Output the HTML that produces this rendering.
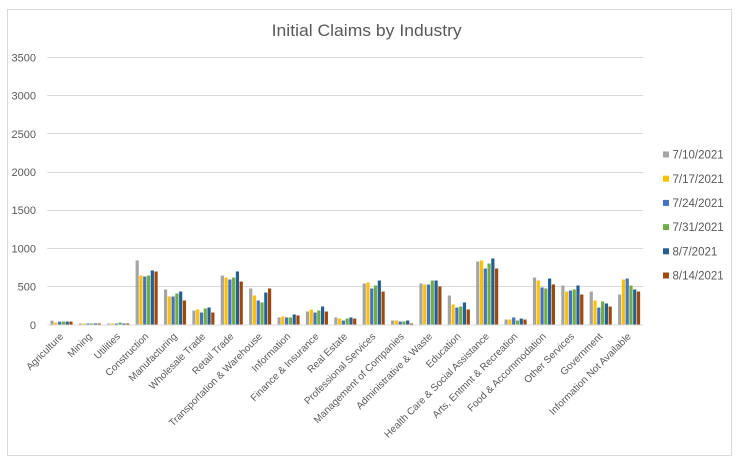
<!DOCTYPE html>
<html><head><meta charset="utf-8"><style>
html,body{margin:0;padding:0;background:#fff;}
svg{display:block;font-family:"Liberation Sans",Arial,sans-serif;}
</style></head><body>
<svg width="741" height="466" viewBox="0 0 741 466" xmlns="http://www.w3.org/2000/svg">
<rect x="0" y="0" width="741" height="466" fill="#fff"/>
<rect x="7.5" y="9.5" width="724" height="446" fill="#fff" stroke="#D9D9D9" stroke-width="1"/>
<text x="366.7" y="36" font-size="16.5" fill="#595959" text-anchor="middle" textLength="190" lengthAdjust="spacingAndGlyphs">Initial Claims by Industry</text>
<g stroke="#D9D9D9" stroke-width="1">
<line x1="47.3" x2="643.3" y1="57.5" y2="57.5"/>
<line x1="47.3" x2="643.3" y1="95.5" y2="95.5"/>
<line x1="47.3" x2="643.3" y1="133.5" y2="133.5"/>
<line x1="47.3" x2="643.3" y1="172.5" y2="172.5"/>
<line x1="47.3" x2="643.3" y1="210.5" y2="210.5"/>
<line x1="47.3" x2="643.3" y1="248.5" y2="248.5"/>
<line x1="47.3" x2="643.3" y1="286.5" y2="286.5"/>
<line x1="47.3" x2="643.3" y1="325" y2="325"/>
</g>
<g font-size="11" fill="#595959" text-anchor="end">
<text x="36" y="61.3">3500</text>
<text x="36" y="99.5">3000</text>
<text x="36" y="137.8">2500</text>
<text x="36" y="176">2000</text>
<text x="36" y="214.2">1500</text>
<text x="36" y="252.5">1000</text>
<text x="36" y="290.7">500</text>
<text x="36" y="329">0</text>
</g>
<defs>
<g id="none"></g>
</defs>
<!-- bars: each group translated; values in data units, scale flips -->
<g>
<g transform="translate(50.44,324.5) scale(1,-0.07649)"><rect x="0" width="3.2" height="50" fill="#A5A5A5"/><rect x="3.78" width="3.2" height="25" fill="#FFC000"/><rect x="7.56" width="3.2" height="38" fill="#4472C4"/><rect x="11.34" width="3.2" height="38" fill="#70AD47"/><rect x="15.12" width="3.2" height="38" fill="#255E91"/><rect x="18.9" width="3.2" height="38" fill="#9E480E"/></g>
<g transform="translate(78.82,324.5) scale(1,-0.07649)"><rect x="0" width="3.2" height="13" fill="#A5A5A5"/><rect x="3.78" width="3.2" height="13" fill="#FFC000"/><rect x="7.56" width="3.2" height="13" fill="#4472C4"/><rect x="11.34" width="3.2" height="13" fill="#70AD47"/><rect x="15.12" width="3.2" height="13" fill="#255E91"/><rect x="18.9" width="3.2" height="13" fill="#9E480E"/></g>
<g transform="translate(107.2,324.5) scale(1,-0.07649)"><rect x="0" width="3.2" height="13" fill="#A5A5A5"/><rect x="3.78" width="3.2" height="13" fill="#FFC000"/><rect x="7.56" width="3.2" height="13" fill="#4472C4"/><rect x="11.34" width="3.2" height="25" fill="#70AD47"/><rect x="15.12" width="3.2" height="13" fill="#255E91"/><rect x="18.9" width="3.2" height="13" fill="#9E480E"/></g>
<g transform="translate(135.58,324.5) scale(1,-0.07649)"><rect x="0" width="3.2" height="837" fill="#A5A5A5"/><rect x="3.78" width="3.2" height="640" fill="#FFC000"/><rect x="7.56" width="3.2" height="627" fill="#4472C4"/><rect x="11.34" width="3.2" height="640" fill="#70AD47"/><rect x="15.12" width="3.2" height="706" fill="#255E91"/><rect x="18.9" width="3.2" height="693" fill="#9E480E"/></g>
<g transform="translate(163.96,324.5) scale(1,-0.07649)"><rect x="0" width="3.2" height="458" fill="#A5A5A5"/><rect x="3.78" width="3.2" height="366" fill="#FFC000"/><rect x="7.56" width="3.2" height="366" fill="#4472C4"/><rect x="11.34" width="3.2" height="405" fill="#70AD47"/><rect x="15.12" width="3.2" height="431" fill="#255E91"/><rect x="18.9" width="3.2" height="314" fill="#9E480E"/></g>
<g transform="translate(192.34,324.5) scale(1,-0.07649)"><rect x="0" width="3.2" height="183" fill="#A5A5A5"/><rect x="3.78" width="3.2" height="196" fill="#FFC000"/><rect x="7.56" width="3.2" height="157" fill="#4472C4"/><rect x="11.34" width="3.2" height="209" fill="#70AD47"/><rect x="15.12" width="3.2" height="222" fill="#255E91"/><rect x="18.9" width="3.2" height="157" fill="#9E480E"/></g>
<g transform="translate(220.72,324.5) scale(1,-0.07649)"><rect x="0" width="3.2" height="640" fill="#A5A5A5"/><rect x="3.78" width="3.2" height="614" fill="#FFC000"/><rect x="7.56" width="3.2" height="588" fill="#4472C4"/><rect x="11.34" width="3.2" height="614" fill="#70AD47"/><rect x="15.12" width="3.2" height="693" fill="#255E91"/><rect x="18.9" width="3.2" height="562" fill="#9E480E"/></g>
<g transform="translate(249.1,324.5) scale(1,-0.07649)"><rect x="0" width="3.2" height="471" fill="#A5A5A5"/><rect x="3.78" width="3.2" height="379" fill="#FFC000"/><rect x="7.56" width="3.2" height="314" fill="#4472C4"/><rect x="11.34" width="3.2" height="288" fill="#70AD47"/><rect x="15.12" width="3.2" height="418" fill="#255E91"/><rect x="18.9" width="3.2" height="471" fill="#9E480E"/></g>
<g transform="translate(277.48,324.5) scale(1,-0.07649)"><rect x="0" width="3.2" height="92" fill="#A5A5A5"/><rect x="3.78" width="3.2" height="105" fill="#FFC000"/><rect x="7.56" width="3.2" height="92" fill="#4472C4"/><rect x="11.34" width="3.2" height="92" fill="#70AD47"/><rect x="15.12" width="3.2" height="131" fill="#255E91"/><rect x="18.9" width="3.2" height="118" fill="#9E480E"/></g>
<g transform="translate(305.86,324.5) scale(1,-0.07649)"><rect x="0" width="3.2" height="170" fill="#A5A5A5"/><rect x="3.78" width="3.2" height="196" fill="#FFC000"/><rect x="7.56" width="3.2" height="157" fill="#4472C4"/><rect x="11.34" width="3.2" height="183" fill="#70AD47"/><rect x="15.12" width="3.2" height="235" fill="#255E91"/><rect x="18.9" width="3.2" height="170" fill="#9E480E"/></g>
<g transform="translate(334.24,324.5) scale(1,-0.07649)"><rect x="0" width="3.2" height="92" fill="#A5A5A5"/><rect x="3.78" width="3.2" height="78" fill="#FFC000"/><rect x="7.56" width="3.2" height="52" fill="#4472C4"/><rect x="11.34" width="3.2" height="78" fill="#70AD47"/><rect x="15.12" width="3.2" height="92" fill="#255E91"/><rect x="18.9" width="3.2" height="78" fill="#9E480E"/></g>
<g transform="translate(362.62,324.5) scale(1,-0.07649)"><rect x="0" width="3.2" height="536" fill="#A5A5A5"/><rect x="3.78" width="3.2" height="549" fill="#FFC000"/><rect x="7.56" width="3.2" height="471" fill="#4472C4"/><rect x="11.34" width="3.2" height="510" fill="#70AD47"/><rect x="15.12" width="3.2" height="575" fill="#255E91"/><rect x="18.9" width="3.2" height="431" fill="#9E480E"/></g>
<g transform="translate(391,324.5) scale(1,-0.07649)"><rect x="0" width="3.2" height="52" fill="#A5A5A5"/><rect x="3.78" width="3.2" height="52" fill="#FFC000"/><rect x="7.56" width="3.2" height="39" fill="#4472C4"/><rect x="11.34" width="3.2" height="39" fill="#70AD47"/><rect x="15.12" width="3.2" height="52" fill="#255E91"/><rect x="18.9" width="3.2" height="13" fill="#9E480E"/></g>
<g transform="translate(419.38,324.5) scale(1,-0.07649)"><rect x="0" width="3.2" height="536" fill="#A5A5A5"/><rect x="3.78" width="3.2" height="523" fill="#FFC000"/><rect x="7.56" width="3.2" height="523" fill="#4472C4"/><rect x="11.34" width="3.2" height="575" fill="#70AD47"/><rect x="15.12" width="3.2" height="575" fill="#255E91"/><rect x="18.9" width="3.2" height="497" fill="#9E480E"/></g>
<g transform="translate(447.76,324.5) scale(1,-0.07649)"><rect x="0" width="3.2" height="379" fill="#A5A5A5"/><rect x="3.78" width="3.2" height="261" fill="#FFC000"/><rect x="7.56" width="3.2" height="222" fill="#4472C4"/><rect x="11.34" width="3.2" height="235" fill="#70AD47"/><rect x="15.12" width="3.2" height="288" fill="#255E91"/><rect x="18.9" width="3.2" height="196" fill="#9E480E"/></g>
<g transform="translate(476.14,324.5) scale(1,-0.07649)"><rect x="0" width="3.2" height="824" fill="#A5A5A5"/><rect x="3.78" width="3.2" height="837" fill="#FFC000"/><rect x="7.56" width="3.2" height="732" fill="#4472C4"/><rect x="11.34" width="3.2" height="797" fill="#70AD47"/><rect x="15.12" width="3.2" height="863" fill="#255E91"/><rect x="18.9" width="3.2" height="732" fill="#9E480E"/></g>
<g transform="translate(504.52,324.5) scale(1,-0.07649)"><rect x="0" width="3.2" height="65" fill="#A5A5A5"/><rect x="3.78" width="3.2" height="65" fill="#FFC000"/><rect x="7.56" width="3.2" height="92" fill="#4472C4"/><rect x="11.34" width="3.2" height="52" fill="#70AD47"/><rect x="15.12" width="3.2" height="78" fill="#255E91"/><rect x="18.9" width="3.2" height="65" fill="#9E480E"/></g>
<g transform="translate(532.9,324.5) scale(1,-0.07649)"><rect x="0" width="3.2" height="614" fill="#A5A5A5"/><rect x="3.78" width="3.2" height="575" fill="#FFC000"/><rect x="7.56" width="3.2" height="484" fill="#4472C4"/><rect x="11.34" width="3.2" height="471" fill="#70AD47"/><rect x="15.12" width="3.2" height="601" fill="#255E91"/><rect x="18.9" width="3.2" height="523" fill="#9E480E"/></g>
<g transform="translate(561.28,324.5) scale(1,-0.07649)"><rect x="0" width="3.2" height="510" fill="#A5A5A5"/><rect x="3.78" width="3.2" height="431" fill="#FFC000"/><rect x="7.56" width="3.2" height="444" fill="#4472C4"/><rect x="11.34" width="3.2" height="458" fill="#70AD47"/><rect x="15.12" width="3.2" height="510" fill="#255E91"/><rect x="18.9" width="3.2" height="392" fill="#9E480E"/></g>
<g transform="translate(589.66,324.5) scale(1,-0.07649)"><rect x="0" width="3.2" height="431" fill="#A5A5A5"/><rect x="3.78" width="3.2" height="314" fill="#FFC000"/><rect x="7.56" width="3.2" height="222" fill="#4472C4"/><rect x="11.34" width="3.2" height="301" fill="#70AD47"/><rect x="15.12" width="3.2" height="275" fill="#255E91"/><rect x="18.9" width="3.2" height="235" fill="#9E480E"/></g>
<g transform="translate(618.04,324.5) scale(1,-0.07649)"><rect x="0" width="3.2" height="392" fill="#A5A5A5"/><rect x="3.78" width="3.2" height="588" fill="#FFC000"/><rect x="7.56" width="3.2" height="601" fill="#4472C4"/><rect x="11.34" width="3.2" height="510" fill="#70AD47"/><rect x="15.12" width="3.2" height="458" fill="#255E91"/><rect x="18.9" width="3.2" height="431" fill="#9E480E"/></g>
</g>
<g font-size="10" fill="#595959" text-anchor="end">
<text transform="translate(64,337) rotate(-45)">Agriculture</text>
<text transform="translate(92.4,337) rotate(-45)">Mining</text>
<text transform="translate(120.8,337) rotate(-45)">Utilities</text>
<text transform="translate(149.1,337) rotate(-45)">Construction</text>
<text transform="translate(177.5,337) rotate(-45)">Manufacturing</text>
<text transform="translate(205.9,337) rotate(-45)">Wholesale Trade</text>
<text transform="translate(234.3,337) rotate(-45)">Retail Trade</text>
<text transform="translate(262.7,337) rotate(-45)">Transportation &amp; Warehouse</text>
<text transform="translate(291,337) rotate(-45)">Information</text>
<text transform="translate(319.4,337) rotate(-45)">Finance &amp; Insurance</text>
<text transform="translate(347.8,337) rotate(-45)">Real Estate</text>
<text transform="translate(376.2,337) rotate(-45)">Professional Services</text>
<text transform="translate(404.6,337) rotate(-45)">Management of Companies</text>
<text transform="translate(432.9,337) rotate(-45)">Administrative &amp; Waste</text>
<text transform="translate(461.3,337) rotate(-45)">Education</text>
<text transform="translate(489.7,337) rotate(-45)">Health Care &amp; Social Assistance</text>
<text transform="translate(518.1,337) rotate(-45)">Arts, Entmnt &amp; Recreation</text>
<text transform="translate(546.5,337) rotate(-45)">Food &amp; Accommodation</text>
<text transform="translate(574.8,337) rotate(-45)">Other Services</text>
<text transform="translate(603.2,337) rotate(-45)">Government</text>
<text transform="translate(631.6,337) rotate(-45)">Information Not Available</text>
</g>
<g font-size="11.5" fill="#595959">
<rect x="663" y="151.5" width="6" height="6" fill="#A5A5A5"/><text x="672.5" y="158.6">7/10/2021</text>
<rect x="663" y="175.7" width="6" height="6" fill="#FFC000"/><text x="672.5" y="182.8">7/17/2021</text>
<rect x="663" y="199.9" width="6" height="6" fill="#4472C4"/><text x="672.5" y="207">7/24/2021</text>
<rect x="663" y="224.1" width="6" height="6" fill="#70AD47"/><text x="672.5" y="231.2">7/31/2021</text>
<rect x="663" y="248.3" width="6" height="6" fill="#255E91"/><text x="672.5" y="255.4">8/7/2021</text>
<rect x="663" y="272.5" width="6" height="6" fill="#9E480E"/><text x="672.5" y="279.6">8/14/2021</text>
</g>
</svg>
</body></html>
